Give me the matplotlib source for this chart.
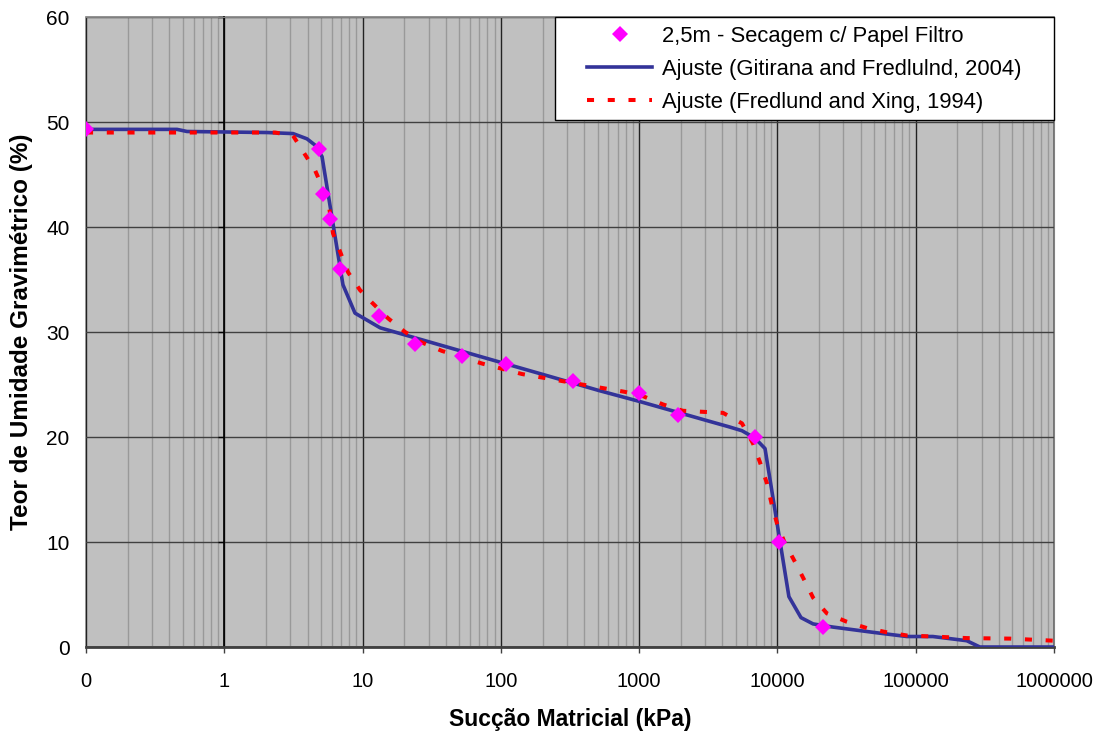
import matplotlib
matplotlib.use("Agg")
import matplotlib.pyplot as plt
from matplotlib.patches import Rectangle
from matplotlib.ticker import FixedLocator, LogLocator, NullFormatter

plt.rcParams['font.family'] = ['Liberation Sans', 'DejaVu Sans']

# pontos medidos (papel filtro)
suc_pts = [0.1, 4.84, 5.18, 5.8, 6.87, 13.2, 23.9, 52.3, 109, 331, 1000, 1900, 6870, 10200, 21400]
w_pts = [49.3, 47.4, 43.1, 40.8, 36.0, 31.5, 28.9, 27.7, 27.0, 25.3, 24.2, 22.1, 20.0, 10.0, 1.9]

# ajuste Gitirana and Fredlund (2004)
suc_git = [0.1, 0.455, 0.537, 2.04, 3.14, 3.96, 4.53, 5.09, 7.21, 8.81, 13.4, 521, 998,
           3420, 4390, 5540, 6870, 8130, 12100, 14800, 18100, 25200, 49100, 86300,
           133000, 234000, 291000, 1000000]
w_git = [49.3, 49.3, 49.1, 49.0, 48.9, 48.4, 47.8, 46.7, 34.5, 31.8, 30.4, 24.4, 23.4,
         21.4, 21.0, 20.6, 19.9, 18.9, 4.8, 2.8, 2.2, 1.9, 1.4, 1.0,
         1.0, 0.6, 0.0, 0.0]

# ajuste Fredlund and Xing (1994)
suc_fx = [0.1, 2.33, 3.14, 4.53, 5.62, 6.11, 7.84, 9.57, 11.7, 15.3, 20.3, 26.9, 37.5,
          73.0, 142, 406, 789, 1060, 1490, 2070, 4040, 5540, 6650, 7470, 8390, 9120,
          9910, 11300, 13400, 15600, 18100, 22800, 31800, 44400, 61900, 86300,
          133000, 234000, 480000, 1000000]
w_fx = [49.0, 49.0, 48.7, 45.4, 42.6, 39.4, 35.7, 34.0, 32.8, 31.3, 30.0, 29.0, 28.2,
        27.0, 26.0, 24.95, 24.3, 23.9, 23.1, 22.5, 22.3, 21.3, 19.4, 17.6, 15.6, 13.5,
        11.8, 9.9, 8.1, 6.4, 4.7, 3.2, 2.4, 1.8, 1.4, 1.1,
        1.0, 0.85, 0.8, 0.6]

x_ticks = [0.1, 1, 10, 100, 1000, 10000, 100000, 1000000]
x_labels = ["0", "1", "10", "100", "1000", "10000", "100000", "1000000"]
y_ticks = [0, 10, 20, 30, 40, 50, 60]

fig = plt.figure(figsize=(11.03, 7.34), dpi=100)
ax = fig.add_axes([0.078, 0.1185, 0.8776, 0.8583])
ax.set_facecolor('#c0c0c0')

ax.plot(suc_pts, w_pts, linestyle='none', marker='D', markersize=8, color='#ff00ff',
        markeredgewidth=0, label='2,5m - Secagem c/ Papel Filtro', zorder=5)
ax.plot(suc_git, w_git, color='#333399', linewidth=2.6,
        label='Ajuste (Gitirana and Fredlulnd, 2004)', zorder=4)
ax.plot(suc_fx, w_fx, color='#ff0000', linewidth=2.9, dashes=(1.75, 3.4),
        label='Ajuste (Fredlund and Xing, 1994)', zorder=4)

ax.set_xscale('log')
ax.set_xlim(0.1, 1000000)
ax.set_ylim(0, 60)
ax.xaxis.set_major_locator(FixedLocator(x_ticks))
ax.set_xticklabels(x_labels)
ax.xaxis.set_minor_locator(LogLocator(base=10, subs=range(2, 10), numticks=20))
ax.xaxis.set_minor_formatter(NullFormatter())
ax.set_yticks(y_ticks)

ax.grid(True, which='minor', axis='x', color='#999999', linewidth=1)
ax.grid(True, which='major', axis='x', color='#222222', linewidth=1)
ax.grid(True, which='major', axis='y', color='#404040', linewidth=1)
ax.set_axisbelow(True)
ax.tick_params(axis='x', which='minor', length=0)
ax.tick_params(axis='x', which='major', direction='out', length=4.3, width=1,
               color='#404040', labelsize=14.5, pad=14)
ax.tick_params(axis='y', direction='out', length=4.3, width=1, color='black',
               labelsize=15, pad=107)

ax.spines['left'].set_position(('data', 1))
ax.spines['left'].set_color('black')
ax.spines['left'].set_linewidth(1.2)
ax.spines['bottom'].set_color('#404040')
ax.spines['bottom'].set_linewidth(2)
for s in ['top', 'right']:
    ax.spines[s].set_color('#808080')
ax.add_patch(Rectangle((0, 0), 1, 1, transform=ax.transAxes, fill=False,
                       edgecolor='#808080', linewidth=1.2, zorder=0.5, clip_on=False))

ax.set_xlabel('Sucção Matricial (kPa)', fontsize=16.5, fontweight='bold', labelpad=12)
ax.set_ylabel('Teor de Umidade Gravimétrico (%)', fontsize=17.5, fontweight='bold')
ax.yaxis.set_label_coords(-0.055, 0.5)

# caixa da legenda (mais larga que o conteúdo, como no Excel)
ax.add_patch(Rectangle((0.4845, 0.8365), 0.5155, 0.1635, transform=ax.transAxes,
                       facecolor='white', edgecolor='black', linewidth=1,
                       zorder=6, clip_on=False))
leg = ax.legend(loc='upper left', bbox_to_anchor=(0.512, 0.995), borderaxespad=0,
                fontsize=15.8, frameon=False, handlelength=2.97, labelspacing=0.55,
                handletextpad=0.46, borderpad=0.25)
leg.set_zorder(7)

fig.savefig('out.png', dpi=100)
